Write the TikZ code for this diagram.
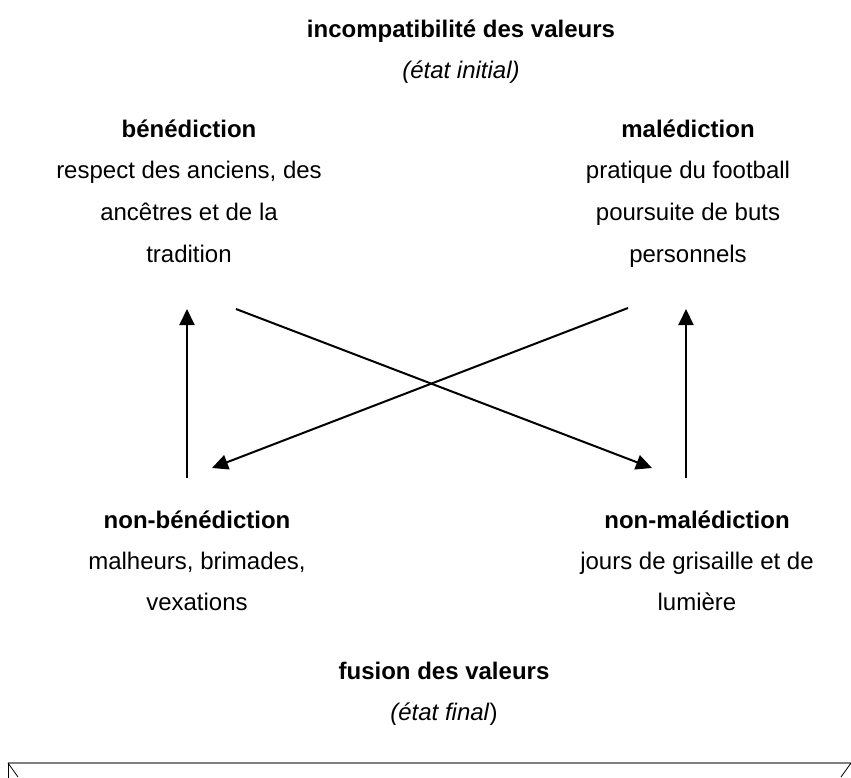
\documentclass[tikz,border=0pt]{standalone}
\usepackage{fontspec}
\setmainfont{Liberation Sans}
\usetikzlibrary{arrows.meta}
\begin{document}
\begin{tikzpicture}[x=1pt,y=-1pt,
  txt/.style={font=\fontsize{24}{28}\selectfont, inner sep=0pt, anchor=base},
  ttl/.style={txt, font=\fontsize{24}{28}\selectfont\bfseries},
  arr/.style={line width=2pt, -{Triangle[length=16pt,width=15pt]}}]
\useasboundingbox (0,0) rectangle (851,778);
\node[ttl] (t1) at (461,38) {incompatibilité des valeurs};
\node[txt] (t2) at (461,79) {\itshape (état initial)};
\node[ttl] (b0) at (189,138) {bénédiction};
\node[txt] (b1) at (189,179) {respect des anciens, des};
\node[txt] (b2) at (189,220) {ancêtres et de la};
\node[txt] (b3) at (189,262) {tradition};
\node[ttl] (m0) at (688,138) {malédiction};
\node[txt] (m1) at (688,179) {pratique du football};
\node[txt] (m2) at (688,220) {poursuite de buts};
\node[txt] (m3) at (688,262) {personnels};
\node[ttl] (nb0) at (197,528) {non-bénédiction};
\node[txt] (nb1) at (197,569) {malheurs, brimades,};
\node[txt] (nb2) at (197,610) {vexations};
\node[ttl] (nm0) at (697,528) {non-malédiction};
\node[txt] (nm1) at (697,569) {jours de grisaille et de};
\node[txt] (nm2) at (697,610) {lumière};
\node[ttl] (f1) at (444,679) {fusion des valeurs};
\node[txt] (f2) at (444,720) {\textit{(état final})};
\coordinate (lvb) at (187,478);
\coordinate (lvt) at (187,309);
\coordinate (rvb) at (686,478);
\coordinate (rvt) at (686,309);
\coordinate (d1s) at (236,309);
\coordinate (d1e) at (652,468);
\coordinate (d2s) at (628,308);
\coordinate (d2e) at (212,468);
\draw[arr] (lvb) -- (lvt);
\draw[arr] (rvb) -- (rvt);
\draw[arr] (d1s) -- (d1e);
\draw[arr] (d2s) -- (d2e);
\coordinate (fl) at (8,763);
\coordinate (fr) at (851,763);
\draw[gray, line width=2pt] (fl) -- (fr);
\draw[line width=0.8pt] (fl) -- ++(10,14);
\draw[line width=0.8pt] (fr) -- ++(-10,14);
\draw[line width=0.8pt] (fl) -- ++(0,15);
\end{tikzpicture}
\end{document}
